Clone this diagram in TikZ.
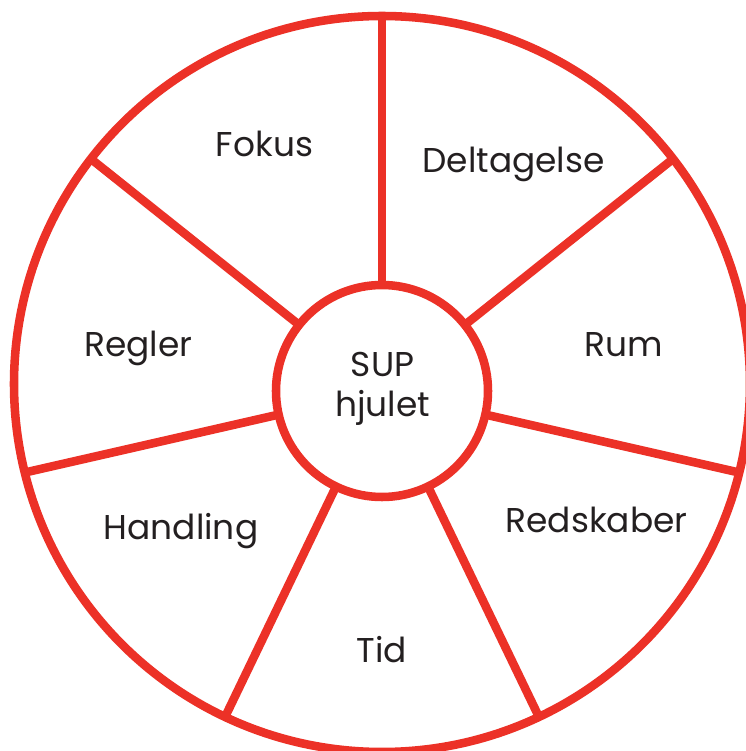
\documentclass[tikz,border=0pt]{standalone}
\usepackage{fontspec}
\setmainfont{Poppins}
\usetikzlibrary{calc}
\definecolor{wheelred}{RGB}{236,49,39}
\definecolor{txt}{RGB}{35,31,32}
\begin{document}
\begin{tikzpicture}[x=0.75pt,y=0.75pt,
  rim/.style={draw=wheelred,line width=6.4pt},
  spoke/.style={draw=wheelred,line width=6.4pt},
  hubstyle/.style={circle,draw=wheelred,line width=6.4pt,fill=white,minimum size=159pt,inner sep=0pt},
  lbl/.style={text=txt,font=\fontsize{25.8}{30}\selectfont,anchor=base,inner sep=0pt,align=center}]
\useasboundingbox (0,0) rectangle (746,751);
\clip (0,0) rectangle (746,751);
\fill[white] (0,0) rectangle (746,751);
\coordinate (c) at (382,360);
\coordinate (o) at (382,367);
\draw[rim] (o) circle[radius=276pt];
\foreach \a/\t [count=\i] in {90/375, 38.57/372.3, -12.86/366.4, -64.29/361.7, -115.71/361.7, -167.14/366.4, 141.43/372.3} {
  \coordinate (s\i) at ($(c)+(\a:\t)$);
  \draw[spoke] (s\i) -- (c);
}
\node[hubstyle] (hub) at (c) {};
\node[lbl] (hubtext) at (382.5,334) {SUP\\hjulet};
\node[lbl] (fokus) at (264.5,594) {Fokus};
\node[lbl] (deltagelse) at (513.5,578) {Deltagelse};
\node[lbl] (rum) at (624,394) {Rum};
\node[lbl] (regler) at (138.5,394) {Regler};
\node[lbl] (redskaber) at (596.5,218) {Redskaber};
\node[lbl] (handling) at (181,211) {Handling};
\node[lbl] (tid) at (382,89) {Tid};
\end{tikzpicture}
\end{document}
